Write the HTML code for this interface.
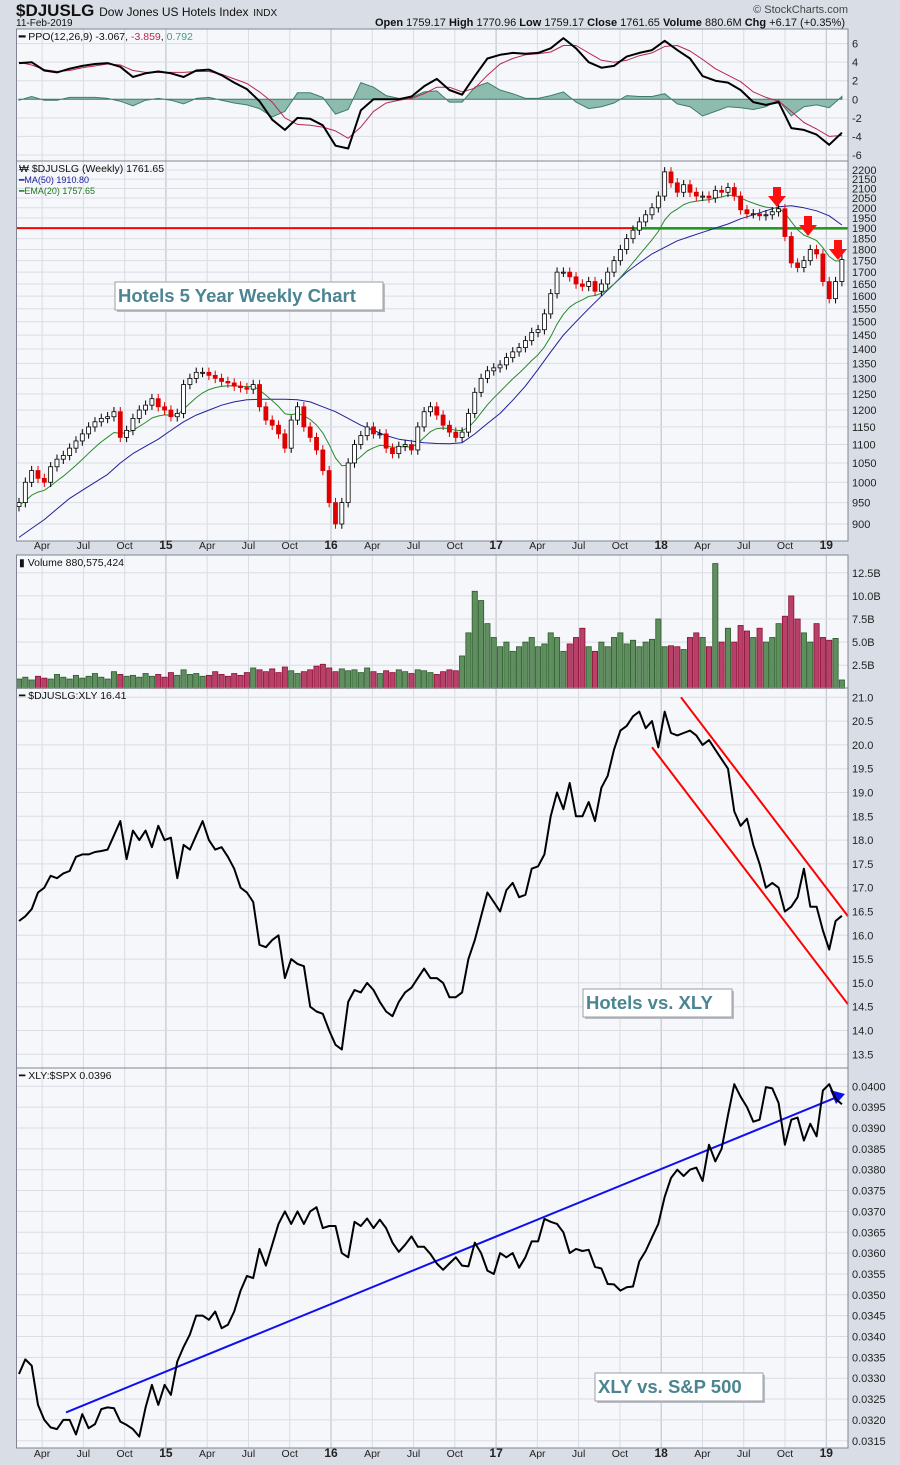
<!DOCTYPE html>
<html><head><meta charset="utf-8">
<style>
html,body{margin:0;padding:0;background:#d9dee6;}
svg{display:block;font-family:"Liberation Sans",sans-serif;}
</style></head>
<body>
<svg id="c" width="900" height="1465" viewBox="0 0 900 1465" xmlns="http://www.w3.org/2000/svg">
<rect x="0" y="0" width="900" height="1465" fill="#d9dee6"/>
<text x="16" y="16" font-size="17" font-weight="bold" fill="#111">$DJUSLG <tspan font-size="12" font-weight="normal">Dow Jones US Hotels Index</tspan> <tspan font-size="10" font-weight="normal">INDX</tspan></text>
<text x="16" y="26" font-size="10" fill="#111">11-Feb-2019</text>
<text x="848" y="13" font-size="11" fill="#444" text-anchor="end">© StockCharts.com</text>
<text x="845" y="26" font-size="11" fill="#111" text-anchor="end"><tspan font-weight="bold">Open</tspan> 1759.17  <tspan font-weight="bold">High</tspan> 1770.96  <tspan font-weight="bold">Low</tspan> 1759.17  <tspan font-weight="bold">Close</tspan> 1761.65  <tspan font-weight="bold">Volume</tspan> 880.6M  <tspan font-weight="bold">Chg</tspan> +6.17 (+0.35%)</text>
<g id="g"></g>
</svg>
<script>
const price=[950,1000,1030,1010,1000,1040,1060,1070,1090,1110,1130,1150,1165,1175,1180,1195,1120,1140,1175,1200,1215,1235,1210,1200,1180,1190,1280,1300,1320,1320,1310,1300,1290,1285,1275,1270,1265,1280,1210,1170,1155,1130,1090,1170,1210,1150,1120,1085,1030,950,900,950,1050,1100,1125,1150,1130,1130,1090,1075,1095,1100,1085,1150,1195,1210,1185,1155,1135,1120,1135,1190,1255,1300,1325,1335,1345,1370,1390,1405,1430,1460,1470,1530,1610,1700,1700,1680,1650,1640,1660,1620,1650,1700,1750,1800,1850,1890,1930,1965,2000,2060,2190,2130,2080,2120,2080,2060,2060,2050,2090,2080,2105,2060,1990,1970,1970,1960,1965,1980,1995,1860,1740,1720,1750,1800,1780,1660,1590,1660,1755];
const ma50=[870,890,910,935,960,980,1000,1020,1050,1075,1095,1115,1140,1165,1185,1200,1215,1225,1232,1233,1233,1233,1232,1225,1210,1195,1175,1155,1140,1125,1115,1110,1105,1103,1102,1105,1130,1160,1190,1230,1275,1330,1390,1450,1500,1550,1600,1650,1700,1740,1780,1810,1840,1860,1880,1900,1920,1945,1965,1985,2005,2010,2000,1985,1960,1915];
const volume=[1.0,1.2,0.9,1.3,1.1,1.0,1.5,1.2,1.0,1.4,1.1,1.3,1.6,1.2,1.0,1.8,1.5,1.3,1.4,1.2,1.6,1.3,1.5,1.2,1.7,1.4,2.0,1.5,1.6,1.3,1.4,1.8,1.5,1.3,1.6,1.4,1.7,2.2,2.0,1.8,2.1,1.7,2.3,1.9,1.6,1.8,2.0,2.4,2.6,2.2,1.8,2.1,1.9,2.0,1.7,2.2,1.8,1.6,1.9,1.7,2.0,1.8,1.6,2.0,1.9,1.7,1.5,1.8,2.0,1.9,3.5,6.0,10.5,9.5,7.0,5.5,4.5,5.0,4.0,4.5,5.0,5.5,4.5,4.8,6.0,5.5,4.0,4.8,5.5,6.5,4.5,4.0,5.0,4.5,5.5,6.0,4.8,5.2,4.5,5.0,5.3,7.5,4.5,4.6,4.5,4.2,5.5,6.0,5.5,4.5,13.5,5.0,6.5,5.0,6.8,6.2,5.5,6.5,5.0,5.5,7.0,7.8,10.0,7.5,6.0,5.0,7.0,5.5,5.2,5.4,0.9];
const ppo=[3.9,4.0,3.1,2.9,3.3,3.6,3.8,3.9,3.5,2.4,2.8,3.0,2.8,2.4,3.1,3.2,2.6,1.8,1.1,-0.2,-2.2,-3.3,-2.0,-2.1,-2.8,-5.0,-5.3,-1.2,0.0,0.0,0.0,0.3,1.4,2.2,1.0,0.5,2.5,4.4,4.8,5.0,4.9,5.0,5.5,6.6,5.5,4.0,3.4,3.6,4.6,5.0,5.3,6.3,5.3,4.4,2.5,2.0,1.8,1.0,-0.3,-0.6,-0.3,-3.1,-3.3,-3.8,-4.9,-3.6];
const ppoSignal=[4.0,3.7,3.2,3.0,3.1,3.4,3.6,3.8,3.7,3.1,2.9,2.9,2.9,2.9,3.0,3.0,2.7,2.2,1.7,0.8,-0.3,-2.0,-2.7,-2.8,-3.0,-3.4,-4.2,-3.0,-1.3,-0.4,-0.1,0.1,0.6,1.3,1.3,0.8,1.2,2.6,3.8,4.4,4.8,4.9,5.1,5.8,5.8,5.0,4.2,4.0,4.2,4.7,5.0,5.7,5.8,5.2,4.3,3.3,2.6,1.9,0.8,0.2,-0.2,-1.3,-2.5,-3.2,-4.0,-3.9];
const ratio=[16.3,16.4,16.55,16.9,17.0,17.25,17.2,17.3,17.35,17.65,17.7,17.7,17.75,17.77,17.8,18.1,18.4,17.6,18.2,18.0,18.2,17.85,18.3,18.0,18.05,17.2,17.9,17.8,18.1,18.4,18.0,17.8,17.85,17.65,17.4,17.0,16.9,16.7,15.8,15.75,15.9,16.0,15.1,15.5,15.4,15.35,14.5,14.4,14.35,14.0,13.7,13.6,14.6,14.85,14.8,15.0,14.85,14.6,14.4,14.3,14.6,14.8,14.9,15.1,15.3,15.1,15.1,15.0,14.7,14.7,14.8,15.5,15.9,16.4,16.9,16.7,16.5,16.95,17.1,16.8,16.85,17.4,17.45,17.7,18.5,19.0,18.65,19.2,18.5,18.5,18.8,18.4,19.1,19.35,19.9,20.3,20.4,20.6,20.7,20.35,20.5,19.95,20.7,20.25,20.2,20.25,20.3,20.2,20.0,20.1,19.9,19.7,19.5,18.6,18.3,18.45,17.9,17.5,17.0,17.1,17.0,16.5,16.6,16.8,17.4,16.6,16.6,16.1,15.7,16.3,16.41];
const xlySpx=[0.0331,0.03345,0.0333,0.03236,0.032,0.03182,0.03178,0.032,0.032,0.03165,0.03214,0.0318,0.0319,0.03226,0.0323,0.03228,0.03196,0.03188,0.03178,0.0316,0.0323,0.03284,0.03236,0.03284,0.0326,0.0334,0.03375,0.03405,0.0345,0.0345,0.0344,0.0346,0.0342,0.03428,0.0346,0.0351,0.03545,0.0354,0.0361,0.0357,0.0362,0.0367,0.037,0.0367,0.037,0.0367,0.037,0.0371,0.0366,0.03665,0.03665,0.036,0.0359,0.03675,0.03665,0.03683,0.0366,0.0368,0.0366,0.03625,0.03603,0.0362,0.0364,0.03615,0.03615,0.03598,0.03575,0.0356,0.03575,0.0359,0.0357,0.03568,0.03625,0.036,0.03558,0.0355,0.036,0.0359,0.036,0.03565,0.0359,0.03628,0.03628,0.03682,0.03675,0.0367,0.0365,0.036,0.0361,0.03605,0.03608,0.03567,0.03563,0.03526,0.03525,0.0351,0.03518,0.0352,0.0358,0.03605,0.03638,0.0367,0.03735,0.0378,0.038,0.03785,0.038,0.03805,0.03773,0.0386,0.0382,0.0385,0.03931,0.04005,0.03975,0.0395,0.03915,0.0392,0.03998,0.03995,0.0396,0.0386,0.0392,0.03925,0.0387,0.0391,0.0388,0.0399,0.04005,0.0397,0.03957];
const xTickLabels=["Apr","Jul","Oct","15","Apr","Jul","Oct","16","Apr","Jul","Oct","17","Apr","Jul","Oct","18","Apr","Jul","Oct","19"];
const priceTicks=[2200,2150,2100,2050,2000,1950,1900,1850,1800,1750,1700,1650,1600,1550,1500,1450,1400,1350,1300,1250,1200,1150,1100,1050,1000,950,900];
const ppoTicks=[6,4,2,0,-2,-4,-6];
const volTicks=[2.5,5.0,7.5,10.0,12.5];
const ratioTicks=[21.0,20.5,20.0,19.5,19.0,18.5,18.0,17.5,17.0,16.5,16.0,15.5,15.0,14.5,14.0,13.5];
const xlyTicks=[0.0400,0.0395,0.0390,0.0385,0.0380,0.0375,0.0370,0.0365,0.0360,0.0355,0.0350,0.0345,0.0340,0.0335,0.0330,0.0325,0.0320,0.0315];

const NS="http://www.w3.org/2000/svg";
const G=document.getElementById('g');
function mk(tag,attrs,parent){const e=document.createElementNS(NS,tag);for(const k in attrs)e.setAttribute(k,attrs[k]);(parent||G).appendChild(e);return e;}
const L=16.5,R=848;
const X=t=>19+3.165*t;
const Yp=v=>524-396*Math.log(v/900);
const Yo=v=>99.3-v*9.28;
const Yv=v=>688.3-v*9.24;
const Yr=v=>697.3+(21-v)*47.6;
const Yx=v=>1086.3+(0.04-v)*41700;
const panels=[["ppo-panel",29,161],["price-panel",161,541],["volume-panel",555,688],["ratio-panel",688,1068],["xly-spx-panel",1068,1448]];
const tickX=xTickLabels.map((s,i)=>X(7.3+13.04*i));

panels.forEach(p=>{
  const r=mk('rect',{x:L,y:p[1],width:R-L,height:p[2]-p[1],fill:'#f5f7fb'});
  
  
  tickX.forEach((x,i)=>{
    const yr=/^\d/.test(xTickLabels[i]);
    const ln=mk('line',{x1:x,x2:x,y1:p[1],y2:p[2],stroke:yr?'#b9bdc7':'#d9dce3','stroke-width':1});
    
    
  });
});
function hgrid(ticks,fy,fmt,name){
  ticks.forEach(v=>{
    const y=fy(v);
    const ln=mk('line',{x1:L,x2:R,y1:y,y2:y,stroke:'#dadde4','stroke-width':1});
    
    
    const t=mk('text',{x:852,y:y+4,'font-size':11,fill:'#222'});
    t.textContent=fmt(v);
    
    
  });
}
hgrid(ppoTicks,Yo,v=>String(v),'ppo-axis');
hgrid(priceTicks,Yp,v=>String(v),'price-axis');
hgrid(volTicks,Yv,v=>v.toFixed(1)+'B','volume-axis');
hgrid(ratioTicks,Yr,v=>v.toFixed(1),'ratio-axis');
hgrid(xlyTicks,Yx,v=>v.toFixed(4),'xly-axis');

function poly(vals,step,fy,stroke,w,name){
  const d=vals.map((v,i)=>(i?'L':'M')+X(i*step).toFixed(1)+' '+fy(v).toFixed(1)).join(' ');
  const p=mk('path',{d:d,fill:'none',stroke:stroke,'stroke-width':w,'stroke-linejoin':'round'});
  
  
  return p;
}
const hd='M'+X(0)+' '+Yo(0)+' '+ppo.map((v,i)=>'L'+X(i*4).toFixed(1)+' '+Yo(v-ppoSignal[i]).toFixed(1)).join(' ')+' L'+X((ppo.length-1)*4)+' '+Yo(0)+' Z';
const hist=mk('path',{d:hd,fill:'#8dbcae',stroke:'#3f7d6b','stroke-width':1});


poly(ppoSignal,4,Yo,'#b8284f',1,'ppo-signal-line');
poly(ppo,4,Yo,'#000',2,'ppo-line');

const ema=[];price.forEach((v,i)=>{ema.push(i?ema[i-1]+(v-ema[i-1])*2/11:v-6);});
const rl=mk('line',{x1:L,x2:R,y1:Yp(1900),y2:Yp(1900),stroke:'#ff0000','stroke-width':2});


const gl=mk('line',{x1:632,x2:R,y1:Yp(1900)+0.5,y2:Yp(1900)+0.5,stroke:'#1f9a1f','stroke-width':2});


poly(ma50,4,Yp,'#20209a',1,'ma50-line');
poly(ema,2,Yp,'#2a8a2a',1,'ema20-line');
price.forEach((c,i)=>{
  const o=i?price[i-1]:c*0.99;const x=X(i*2);
  const hi=Math.max(o,c)*1.012,lo=Math.min(o,c)*0.988;const up=c>=o;
  const w=mk('line',{x1:x,x2:x,y1:Yp(hi),y2:Yp(lo),stroke:up?'#000':'#d00','stroke-width':1});
  
  
  const b=mk('rect',{x:x-2,y:Yp(Math.max(o,c)),width:4,height:Math.max(1,Yp(Math.min(o,c))-Yp(Math.max(o,c))),fill:up?'#fff':'#e00000',stroke:up?'#000':'#d00','stroke-width':0.8});
  
  
});
[[777,207],[808,236],[838,260]].forEach(a=>{
  const ar=mk('path',{d:`M${a[0]-4} ${a[1]-20} h8 v9 h5 l-9 11 l-9 -11 h5 z`,fill:'#ff1010'});
  
  
});

volume.forEach((v,i)=>{
  const up=i===0||price[i]>=price[i-1];const x=X(i*2);
  const b=mk('rect',{x:x-2.6,y:Yv(v),width:5.2,height:Yv(0)-Yv(v),fill:up?'#5f8f5f':'#b8406a',stroke:up?'#2d5a2d':'#8a1030','stroke-width':0.8});
  
  
});

poly(ratio,2,Yr,'#000',2,'hotels-xly-ratio-line');
[[681,21.0,848,16.4],[652,19.95,848,14.55]].forEach(c=>{
  const l=mk('line',{x1:c[0],y1:Yr(c[1]),x2:c[2],y2:Yr(c[3]),stroke:'#ff0000','stroke-width':2});
  
  
});

const tl=mk('line',{x1:66,y1:Yx(0.03218),x2:838,y2:Yx(0.03975),stroke:'#1010ee','stroke-width':2});


const ah=mk('path',{d:'M845 1094 L830 1090 L836 1104 Z',fill:'#1010ee'});


poly(xlySpx,2,Yx,'#000',2,'xly-spx-line');

panels.forEach(p=>{
  const r=mk('rect',{x:L,y:p[1],width:R-L,height:p[2]-p[1],fill:'none',stroke:'#7f8591','stroke-width':1});
  
  
});
[549,1457].forEach((y,j)=>{
  xTickLabels.forEach((s,i)=>{
    const yr=/^\d/.test(s);
    const t=mk('text',{x:tickX[i],y:y,'font-size':yr?12:10.5,'font-weight':yr?'bold':'normal',fill:'#222','text-anchor':'middle'});
    t.textContent=s;
    
    
  });
});
function txt(x,y,s,size,fill,name,weight){const t=mk('text',{x:x,y:y,'font-size':size,fill:fill,'font-weight':weight||'normal'});t.innerHTML=s;return t;}
txt(19,40,'<tspan font-weight="bold">━</tspan> PPO(12,26,9) -3.067, <tspan fill="#b8284f">-3.859</tspan>, <tspan fill="#4a9a86">0.792</tspan>',10.5,'#111','ppo-legend');
txt(19,172,'₩ $DJUSLG (Weekly) 1761.65',10.5,'#111','price-legend');
txt(19,183,'━MA(50) 1910.80',9,'#1b1b9b','ma50-legend');
txt(19,194,'━EMA(20) 1757.65',9,'#1a7a1a','ema20-legend');
txt(19,566,'▮ Volume 880,575,424',10.5,'#111','volume-legend');
txt(19,699,'━ $DJUSLG:XLY 16.41',10.5,'#111','ratio-legend');
txt(19,1079,'━ XLY:$SPX 0.0396',10.5,'#111','xly-legend');
function box(x,y,w,h,s,name){
  const sh=mk('rect',{x:x+2,y:y+2,width:w,height:h,fill:'#b9bcc2'});
  
  
  const r=mk('rect',{x:x,y:y,width:w,height:h,fill:'#fff',stroke:'#9a9ea6','stroke-width':1});
  
  
  txt(x+3,y+h-8,s,18.5,'#4a8591',name,'bold');
}
box(115,282,268,28,'Hotels 5 Year Weekly Chart','annotation-hotels-5yr');
box(583,989,149,28,'Hotels vs. XLY','annotation-hotels-vs-xly');
box(595,1373,168,28,'XLY vs. S&amp;P 500','annotation-xly-vs-spx');
</script>
</body></html>
